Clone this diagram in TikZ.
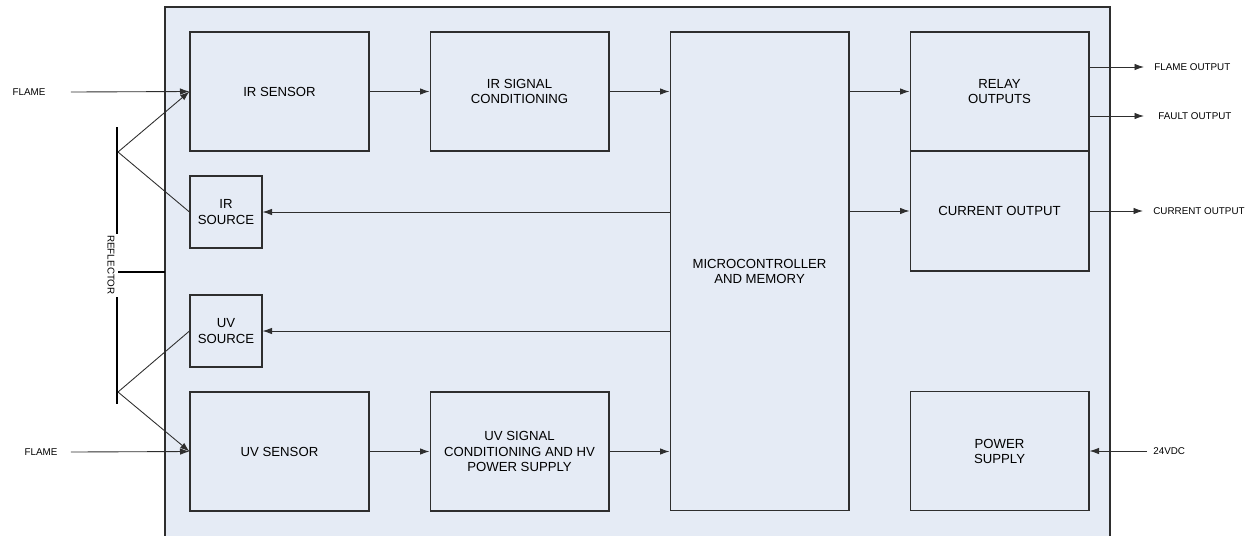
\documentclass[tikz,border=0pt]{standalone}
\usepackage{fontspec}
\setmainfont{Liberation Sans}
\usepackage{tikz}
\usetikzlibrary{arrows.meta,positioning,calc}
\usepackage{xcolor}
\definecolor{panelfill}{HTML}{E5EBF5}
\definecolor{linegray}{HTML}{2E2E2E}
\tikzset{
  blockbox/.style={
    draw=linegray,
    fill=panelfill,
    line width=0.6pt,
    minimum width=3.58cm,
    minimum height=2.38cm,
    inner sep=1pt,
    align=center,
    font=\fontsize{7.5}{9}\selectfont
  },
  srcbox/.style={
    blockbox,
    minimum width=1.44cm,
    minimum height=1.44cm
  },
  extlabel/.style={
    inner sep=0pt,
    font=\fontsize{5.6}{6.5}\selectfont
  },
  arrow/.style={
    -{Latex[length=1.9mm,width=1.3mm]},
    line width=0.5pt,
    draw=linegray
  },
  ray/.style={
    line width=0.5pt,
    draw=linegray
  },
  mirror/.style={
    line width=1.3pt,
    draw=black
  }
}

\begin{document}
\begin{tikzpicture}[x=0.02cm,y=-0.02cm]
\useasboundingbox (0,0) rectangle (1254,535);
\clip (0,0) rectangle (1254,535);
% housing
\draw[line width=0.7pt, draw=linegray, fill=panelfill] (165,7) rectangle (1110,560);

% main blocks
\node[blockbox] (irsensor) at (279.5,91.5) {IR SENSOR};
\node[blockbox, right=1.2cm of irsensor] (irsignal) {IR SIGNAL\\CONDITIONING};
\node[blockbox, right=1.2cm of irsignal.north east, anchor=north west,
      minimum height=9.58cm] (micro) {MICROCONTROLLER\\AND MEMORY};
\node[blockbox, right=1.2cm of micro.north east, anchor=north west] (relay) {RELAY\\OUTPUTS};
\node[blockbox, below=-0.6pt of relay, minimum height=2.4cm] (current) {CURRENT OUTPUT};
\node[blockbox, right=1.2cm of micro.south east, anchor=south west] (power) {POWER\\SUPPLY};
\node[blockbox] (uvsensor) at (279.5,451.5) {UV SENSOR};
\node[blockbox, right=1.2cm of uvsensor] (uvsignal) {UV SIGNAL\\CONDITIONING AND HV\\POWER SUPPLY};
\node[srcbox] (irsource) at (226,212) {IR\\SOURCE};
\node[srcbox] (uvsource) at (226,331) {UV\\SOURCE};

% outside labels
\node[extlabel] (flametop) at (29,92) {FLAME};
\node[extlabel] (flamebot) at (41,452) {FLAME};
\node[extlabel, anchor=west] (flameout) at (1154,67) {FLAME OUTPUT};
\node[extlabel, anchor=west] (faultout) at (1158,116) {FAULT OUTPUT};
\node[extlabel, anchor=west] (currout) at (1153,211) {CURRENT OUTPUT};
\node[extlabel, anchor=west] (vdc) at (1153,451) {24VDC};
\node[extlabel, rotate=-90] (reflabel) at (111,265) {REFLECTOR};

% reflector
\coordinate (irhit) at (118,152);
\coordinate (uvhit) at (118,392);
\draw[mirror] (117,127) -- (117,234);
\draw[mirror] (117,297) -- (117,404);
\draw[mirror] (118,272) -- (165,272);

% signal paths
\draw[arrow] ([xshift=25*0.02cm]flametop.east) -- (irsensor.west);
\draw[arrow] ([xshift=13*0.02cm]flamebot.east) -- (uvsensor.west);
\draw[arrow] (irhit) -- (irsensor.west);
\draw[ray] (irhit) -- (irsource.west);
\draw[ray] (uvhit) -- (uvsource.west);
\draw[arrow] (uvhit) -- (uvsensor.west);
\draw[arrow] (irsensor) -- (irsignal);
\draw[arrow] (irsignal.east) -- (irsignal.east -| micro.west);
\draw[arrow] (uvsensor) -- (uvsignal);
\draw[arrow] (uvsignal.east) -- (uvsignal.east -| micro.west);
\draw[arrow] (micro.west |- irsource) -- (irsource.east);
\draw[arrow] (micro.west |- uvsource) -- (uvsource.east);
\draw[arrow] (micro.east |- relay) -- (relay.west);
\draw[arrow] (micro.east |- current) -- (current.west);
\draw[arrow] (relay.east |- flameout) -- ([xshift=-10*0.02cm]flameout.west);
\draw[arrow] (relay.east |- faultout) -- ([xshift=-14*0.02cm]faultout.west);
\draw[arrow] (current.east |- currout) -- ([xshift=-10*0.02cm]currout.west);
\draw[arrow] ([xshift=-6*0.02cm]vdc.west) -- (power.east |- vdc);
\end{tikzpicture}
\end{document}
